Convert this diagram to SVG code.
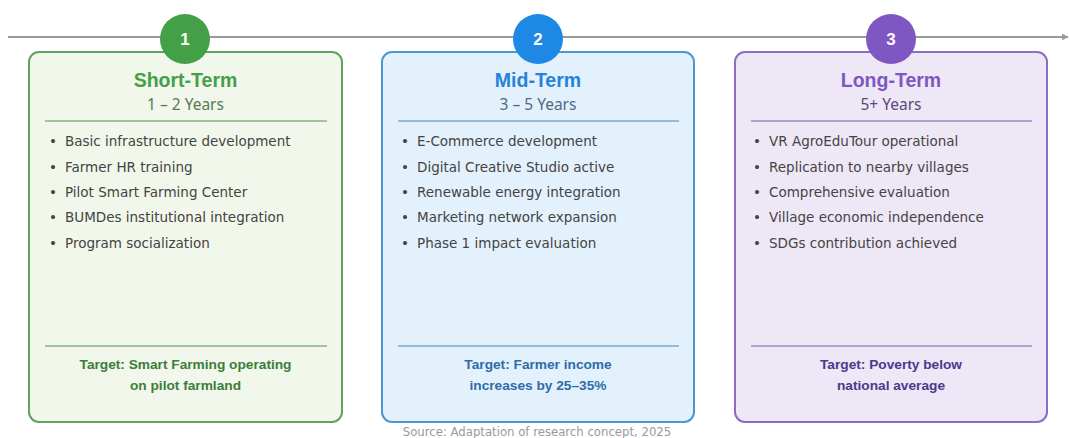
<svg xmlns="http://www.w3.org/2000/svg" width="1070" height="438" viewBox="0 0 1070 438">
  <defs>
    <marker id="arrow" viewBox="0 0 10 10" refX="9" refY="5" markerWidth="7" markerHeight="7" orient="auto" markerUnits="userSpaceOnUse">
      <path d="M0,0 L10,5 L0,10 z" fill="#9a9a9a"/>
    </marker>
    <style>
      .card { stroke-width: 2; }
      .title { font-family: "Liberation Sans", Arial, sans-serif; font-weight: bold; font-size: 19.5px; text-anchor: middle; }
      .sub { font-family: "Noto Sans", "DejaVu Sans", sans-serif; font-size: 15.5px; text-anchor: middle; }
      .item { font-family: "DejaVu Sans", sans-serif; font-size: 13.5px; fill: #444; }
      .target { font-family: "Liberation Sans", Arial, sans-serif; font-weight: bold; font-size: 13.7px; text-anchor: middle; }
      .num { font-family: "Liberation Sans", Arial, sans-serif; font-weight: bold; font-size: 17px; fill: #fff; text-anchor: middle; }
      .src { font-family: "DejaVu Sans Condensed", "DejaVu Sans", sans-serif; font-stretch: condensed; font-size: 13px; fill: #9a9a9a; text-anchor: middle; }
    </style>
  </defs>
  <rect width="1070" height="438" fill="#ffffff"/>

  <!-- timeline axis -->
  <g id="connectors">
    <line x1="8" y1="37" x2="1068" y2="37" stroke="#9a9a9a" stroke-width="2" marker-end="url(#arrow)"/>
  </g>

  <!-- phase 1 -->
  <g id="short-term">
    <rect class="card" x="29" y="52" width="313" height="370" rx="10" fill="#f1f7ea" stroke="#5fa35f"/>
    <circle cx="185" cy="39" r="25" fill="#43a047"/>
    <text class="num" x="185" y="45">1</text>
    <text class="title" x="185.5" y="87" fill="#43a047">Short-Term</text>
    <text class="sub" x="185.5" y="110" fill="#557a55">1 – 2 Years</text>
    <line x1="45" y1="121" x2="327" y2="121" stroke="#4f944f" stroke-width="1"/>
    <g class="item">
      <text x="49" y="146">•</text><text x="65" y="146">Basic infrastructure development</text>
      <text x="49" y="172">•</text><text x="65" y="172">Farmer HR training</text>
      <text x="49" y="197">•</text><text x="65" y="197">Pilot Smart Farming Center</text>
      <text x="49" y="222">•</text><text x="65" y="222">BUMDes institutional integration</text>
      <text x="49" y="248">•</text><text x="65" y="248">Program socialization</text>
    </g>
    <line x1="45" y1="346" x2="327" y2="346" stroke="#4f944f" stroke-width="1"/>
    <text class="target" x="185.5" y="369" fill="#3c7d3c">Target: Smart Farming operating</text>
    <text class="target" x="185.5" y="390" fill="#3c7d3c">on pilot farmland</text>
  </g>

  <!-- phase 2 -->
  <g id="mid-term">
    <rect class="card" x="382" y="52" width="312" height="370" rx="10" fill="#e3f1fc" stroke="#4a97d2"/>
    <circle cx="538" cy="39" r="25" fill="#1e88e5"/>
    <text class="num" x="538" y="45">2</text>
    <text class="title" x="538" y="87" fill="#2583d9">Mid-Term</text>
    <text class="sub" x="538" y="110" fill="#4f6a85">3 – 5 Years</text>
    <line x1="398" y1="121" x2="679" y2="121" stroke="#3d86bf" stroke-width="1"/>
    <g class="item">
      <text x="401" y="146">•</text><text x="417" y="146">E-Commerce development</text>
      <text x="401" y="172">•</text><text x="417" y="172">Digital Creative Studio active</text>
      <text x="401" y="197">•</text><text x="417" y="197">Renewable energy integration</text>
      <text x="401" y="222">•</text><text x="417" y="222">Marketing network expansion</text>
      <text x="401" y="248">•</text><text x="417" y="248">Phase 1 impact evaluation</text>
    </g>
    <line x1="398" y1="346" x2="679" y2="346" stroke="#3d86bf" stroke-width="1"/>
    <text class="target" x="538" y="369" fill="#2f6ca8">Target: Farmer income</text>
    <text class="target" x="538" y="390" fill="#2f6ca8">increases by 25–35%</text>
  </g>

  <!-- phase 3 -->
  <g id="long-term">
    <rect class="card" x="735" y="52" width="312" height="370" rx="10" fill="#ede7f6" stroke="#8c6cc4"/>
    <circle cx="891" cy="39" r="25" fill="#7e57c2"/>
    <text class="num" x="891" y="45">3</text>
    <text class="title" x="891" y="87" fill="#7e57c2">Long-Term</text>
    <text class="sub" x="891" y="110" fill="#5a4a7a">5+ Years</text>
    <line x1="751" y1="121" x2="1032" y2="121" stroke="#7a5cb2" stroke-width="1"/>
    <g class="item">
      <text x="753" y="146">•</text><text x="769" y="146">VR AgroEduTour operational</text>
      <text x="753" y="172">•</text><text x="769" y="172">Replication to nearby villages</text>
      <text x="753" y="197">•</text><text x="769" y="197">Comprehensive evaluation</text>
      <text x="753" y="222">•</text><text x="769" y="222">Village economic independence</text>
      <text x="753" y="248">•</text><text x="769" y="248">SDGs contribution achieved</text>
    </g>
    <line x1="751" y1="346" x2="1032" y2="346" stroke="#7a5cb2" stroke-width="1"/>
    <text class="target" x="891" y="369" fill="#4a3a8c">Target: Poverty below</text>
    <text class="target" x="891" y="390" fill="#4a3a8c">national average</text>
  </g>

  <text class="src" x="537" y="436">Source: Adaptation of research concept, 2025</text>
</svg>
